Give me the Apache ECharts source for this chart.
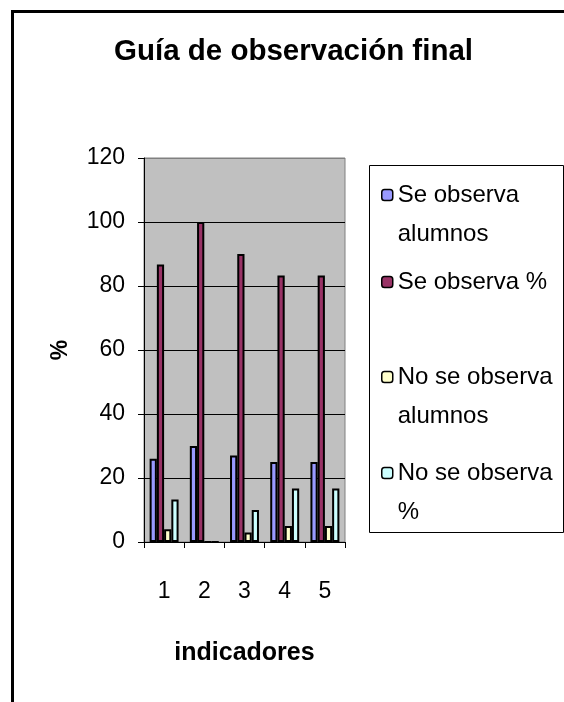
<!DOCTYPE html>
<html>
<head>
<meta charset="utf-8">
<script src="https://cdn.jsdelivr.net/npm/echarts@6/dist/echarts.min.js"></script>
<style>
html,body{margin:0;padding:0;background:#fff;}
#chart{width:564px;height:702px;}
</style>
</head>
<body>
<div id="chart"></div>
<script>
const categories = ['1', '2', '3', '4', '5'];
const seObservaAlumnos = [26, 30, 27, 25, 25];
const seObservaPct = [86.7, 100, 90, 83.3, 83.3];
const noSeObservaAlumnos = [4, 0, 3, 5, 5];
const noSeObservaPct = [13.3, 0, 10, 16.7, 16.7];
const seriesNames = ['Se observa alumnos', 'Se observa %', 'No se observa alumnos', 'No se observa %'];
const legendTexts = ['\nSe observa\nalumnos', 'Se observa %', '\nNo se observa\nalumnos', '\nNo se observa\n%'];
const colors = ['#9999FF', '#993366', '#FFFFCC', '#CCFFFF'];
const yMin = 0, yMax = 120, yStep = 20;

const SANS = '"Liberation Sans", Arial, sans-serif';

const chart = echarts.init(document.getElementById('chart'), null, {renderer: 'canvas'});

const legendTops = [136.5, 262.5, 318.5, 414.5];
const legends = seriesNames.map((n, i) => ({
  data: [n],
  left: 381,
  top: legendTops[i],
  padding: 0,
  orient: 'vertical',
  selectedMode: false,
  itemWidth: 11,
  itemHeight: 11,
  itemStyle: {borderColor: '#000', borderWidth: 1.5},
  formatter: () => legendTexts[i],
  textStyle: {fontFamily: SANS, fontSize: 24, lineHeight: 39, color: '#000'}
}));

const datasets = [seObservaAlumnos, seObservaPct, noSeObservaAlumnos, noSeObservaPct];

const option = {
  animation: false,
  backgroundColor: '#fff',
  title: {
    text: 'Guía de observación final',
    left: 114,
    top: 37,
    padding: 0,
    textStyle: {fontFamily: SANS, fontWeight: 'bold', fontSize: 29.5, color: '#000'}
  },
  graphic: [
    {type: 'rect', shape: {x: 12.5, y: 11.5, width: 700, height: 800}, style: {fill: null, stroke: '#000', lineWidth: 3}, silent: true, z: 100},
    {type: 'rect', shape: {x: 369.5, y: 165.5, width: 194, height: 367}, style: {fill: null, stroke: '#000', lineWidth: 1}, silent: true}
  ],
  legend: legends,
  grid: {
    left: 144, top: 158, right: 219, bottom: 160,
    show: true, backgroundColor: '#C0C0C0', borderColor: '#808080', borderWidth: 1
  },
  xAxis: {
    type: 'category',
    data: categories,
    name: 'indicadores',
    nameLocation: 'middle',
    nameGap: 99,
    nameTextStyle: {fontFamily: SANS, fontWeight: 'bold', fontSize: 25, color: '#000'},
    axisLine: {lineStyle: {color: '#000', width: 1}},
    axisTick: {show: true, length: 6, interval: 0, lineStyle: {color: '#000'}},
    axisLabel: {fontFamily: SANS, fontSize: 23, color: '#000', margin: 38},
    splitLine: {show: false}
  },
  yAxis: {
    type: 'value',
    min: yMin, max: yMax, interval: yStep,
    name: '%',
    nameLocation: 'middle',
    nameRotate: 90,
    nameGap: 72,
    nameTextStyle: {fontFamily: SANS, fontWeight: 'bold', fontSize: 23, color: '#000'},
    axisLine: {show: true, lineStyle: {color: '#000', width: 1}},
    axisTick: {show: true, length: 6, lineStyle: {color: '#000'}},
    axisLabel: {fontFamily: SANS, fontSize: 23, color: '#000', margin: 19},
    splitLine: {show: true, lineStyle: {color: ['#000', '#000', '#000', '#000', '#000', '#000', '#808080'], width: 1}}
  },
  series: seriesNames.map((n, i) => ({
    name: n,
    type: 'bar',
    data: datasets[i],
    barGap: '0%',
    barCategoryGap: '28%',
    itemStyle: {color: colors[i], borderColor: '#000', borderWidth: 2},
    emphasis: {disabled: true}
  }))
};
chart.setOption(option);
</script>
</body>
</html>
